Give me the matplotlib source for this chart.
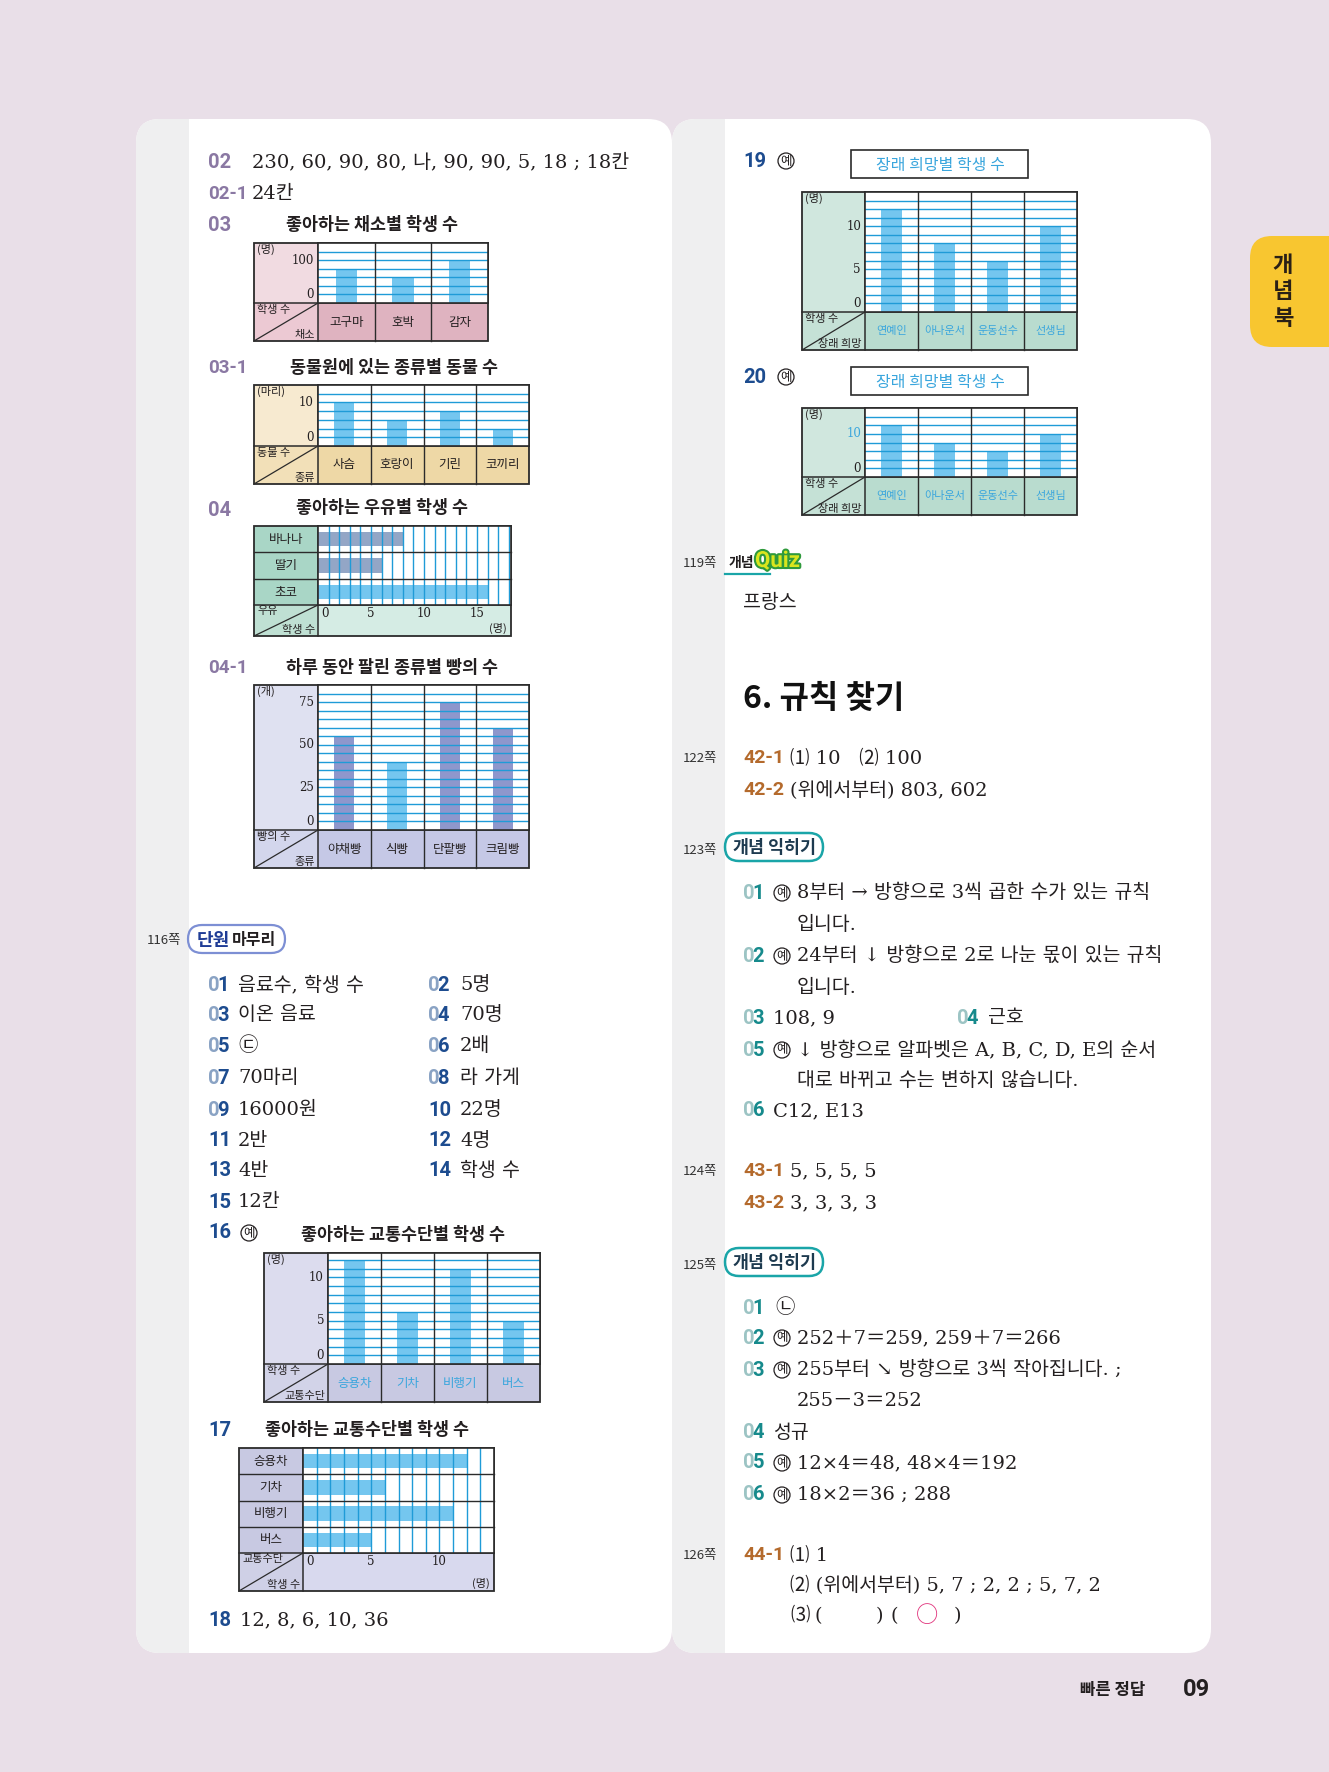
import numpy as np
import matplotlib.pyplot as plt
from matplotlib.patches import Rectangle, FancyBboxPatch
from matplotlib.transforms import blended_transform_factory, offset_copy
import matplotlib.patheffects as pe

SANS = ['Noto Sans CJK KR', 'DejaVu Sans']
SERIF = ['DejaVu Serif', 'Noto Sans CJK KR', 'DejaVu Sans']
NUM = ['Roboto', 'DejaVu Sans']
plt.rcParams['font.family'] = SANS

# ---- chart data ----
veg_cats = ['고구마', '호박', '감자']
veg_vals = [80, 60, 100]
zoo_cats = ['사슴', '호랑이', '기린', '코끼리']
zoo_vals = [10, 6, 8, 4]
milk_cats = ['바나나', '딸기', '초코']
milk_vals = [8, 6, 16]
bread_cats = ['야채빵', '식빵', '단팥빵', '크림빵']
bread_vals = [55, 40, 75, 60]
trans_cats = ['승용차', '기차', '비행기', '버스']
trans_vals = [12, 6, 11, 5]
dream_cats = ['연예인', '아나운서', '운동선수', '선생님']
dream_vals = [12, 8, 6, 10]

W, H = 1329, 1772
fig = plt.figure(figsize=(W / 100, H / 100), dpi=100)
fig.patch.set_facecolor('#e9dfe8')
page = fig.add_axes([0, 0, 1, 1])
page.set_xlim(0, W)
page.set_ylim(H, 0)
page.axis('off')
renderer = fig.canvas.get_renderer()

LINE = '#1f9bd7'
BAR = '#74c6ef'
DARK = '#2b2b2b'
INK = '#231f20'
CATBLUE = '#3aa6dd'
DY = 3  # text baseline nudge


def box_axes(x0, y0, x1, y1):
    return fig.add_axes([x0 / W, 1 - y1 / H, (x1 - x0) / W, (y1 - y0) / H])


def vchart(box, cats, vals, ymax, step, ticks, unit, corner, bg, bar_colors,
           cat_color=INK, tick_colors=None, cat_size=9):
    x0, xl, x1, y0, yh, y1 = box
    lab_bg, head_bg, corner_bg = bg
    page.add_patch(Rectangle((x0, y0), xl - x0, yh - y0, fc=lab_bg, ec='none'))
    page.add_patch(Rectangle((xl, yh), x1 - xl, y1 - yh, fc=head_bg, ec='none'))
    page.add_patch(Rectangle((x0, yh), xl - x0, y1 - yh, fc=corner_bg, ec='none'))
    page.add_patch(Rectangle((x0, y0), x1 - x0, y1 - y0, fc='none', ec=DARK, lw=1.3))
    page.plot([x0, x1], [yh, yh], color=DARK, lw=1.1)
    page.plot([xl, xl], [y0, y1], color=DARK, lw=1.1)
    page.plot([x0, xl], [y1, yh], color=DARK, lw=0.9)
    page.text(x0 + 3, yh + 2, corner[0], ha='left', va='top', fontsize=8, color=INK)
    page.text(xl - 3, y1 - 1, corner[1], ha='right', va='bottom', fontsize=8, color=INK)
    page.text(x0 + 3, y0 + 1, unit, ha='left', va='top', fontsize=8, color=INK)

    n = len(cats)
    ax = box_axes(xl, y0, x1, yh)
    ax.set_xlim(0, n)
    ax.set_ylim(0, ymax)
    ax.bar(np.arange(n) + 0.5, vals, width=0.38, color=bar_colors, zorder=1)
    for v in np.arange(step, ymax, step):
        ax.axhline(v, color=LINE, lw=1.0, zorder=2)
    head = (y1 - yh) / (yh - y0)
    for i in range(1, n):
        ax.axvline(i, ymin=-head, ymax=1, color=DARK, lw=1.0, zorder=3, clip_on=False)
    ax.set_xticks([])
    ax.set_yticks([])
    for s in ax.spines.values():
        s.set_color(DARK)
        s.set_linewidth(1.2)

    tr = blended_transform_factory(ax.transAxes, ax.transData)
    if tick_colors is None:
        tick_colors = [INK] * len(ticks)
    for v, c in zip(ticks, tick_colors):
        if v == 0:
            t = offset_copy(tr, fig=fig, x=-4, y=2, units='dots')
            ax.text(0, v, str(v), transform=t, ha='right', va='bottom',
                    fontsize=8.5, family=SERIF, color=c)
        else:
            t = offset_copy(tr, fig=fig, x=-4, y=0, units='dots')
            ax.text(0, v, str(v), transform=t, ha='right', va='center',
                    fontsize=8.5, family=SERIF, color=c)
    ctr = blended_transform_factory(ax.transData, ax.transAxes)
    for i, c in enumerate(cats):
        ax.text(i + 0.5, -head / 2, c, transform=ctr, ha='center', va='center',
                fontsize=cat_size, color=cat_color)
    return ax


def hchart(box, cats, vals, xmax, step, ticks, corner, bg, bar_colors):
    x0, xl, x1, y0, yd, y1 = box
    row_bg, axis_bg, corner_bg = bg
    page.add_patch(Rectangle((x0, y0), xl - x0, yd - y0, fc=row_bg, ec='none'))
    page.add_patch(Rectangle((xl, yd), x1 - xl, y1 - yd, fc=axis_bg, ec='none'))
    page.add_patch(Rectangle((x0, yd), xl - x0, y1 - yd, fc=corner_bg, ec='none'))
    page.add_patch(Rectangle((x0, y0), x1 - x0, y1 - y0, fc='none', ec=DARK, lw=1.3))
    page.plot([x0, x1], [yd, yd], color=DARK, lw=1.1)
    page.plot([xl, xl], [y0, y1], color=DARK, lw=1.1)
    page.plot([x0, xl], [y1, yd], color=DARK, lw=0.9)
    page.text(x0 + 3, yd + 1, corner[0], ha='left', va='top', fontsize=8, color=INK)
    page.text(xl - 3, y1 - 1, corner[1], ha='right', va='bottom', fontsize=8, color=INK)
    page.text(x1 - 4, y1 - 2, '(명)', ha='right', va='bottom', fontsize=8, color=INK)

    n = len(cats)
    ax = box_axes(xl, y0, x1, yd)
    ax.set_ylim(n, 0)
    ax.set_xlim(0, xmax)
    ax.barh(np.arange(n) + 0.5, vals, height=0.55, color=bar_colors, zorder=1)
    for v in np.arange(step, xmax, step):
        ax.axvline(v, color=LINE, lw=1.0, zorder=2)
    lab = (xl - x0) / (x1 - xl)
    for i in range(1, n):
        ax.axhline(i, xmin=-lab, xmax=1, color=DARK, lw=1.0, zorder=3, clip_on=False)
    ax.set_xticks([])
    ax.set_yticks([])
    for s in ax.spines.values():
        s.set_color(DARK)
        s.set_linewidth(1.2)

    tr = blended_transform_factory(ax.transData, ax.transAxes)
    for v in ticks:
        if v == 0:
            t = offset_copy(tr, fig=fig, x=3, y=-2, units='dots')
            ax.text(v, 0, str(v), transform=t, ha='left', va='top', fontsize=8.5,
                    family=SERIF, color=INK)
        else:
            t = offset_copy(tr, fig=fig, x=0, y=-2, units='dots')
            ax.text(v, 0, str(v), transform=t, ha='center', va='top', fontsize=8.5,
                    family=SERIF, color=INK)
    rtr = blended_transform_factory(ax.transAxes, ax.transData)
    for i, c in enumerate(cats):
        ax.text(-lab / 2, i + 0.5, c, transform=rtr, ha='center', va='center',
                fontsize=9, color=INK)
    return ax


def num(x, y, s, color, zero=None, size=14.5):
    y = y + DY
    if zero and s.startswith('0'):
        t = page.text(x, y, '0', ha='left', va='center', fontsize=size,
                      fontweight='bold', family=NUM, color=zero)
        x = t.get_window_extent(renderer).x1 - 2
        s = s[1:]
    page.text(x, y, s, ha='left', va='center', fontsize=size,
              fontweight='bold', family=NUM, color=color)


def ans(x, y, s, size=14, color=INK):
    page.text(x, y + DY, s, ha='left', va='center', fontsize=size, family=SERIF,
              color=color)


def ye(x, y):
    page.text(x, y + DY, '예', ha='center', va='center', fontsize=9, color=INK,
              bbox=dict(boxstyle='circle,pad=0.12', fc='none', ec=INK, lw=0.9))


def pg(x, y, s):
    page.text(x, y + DY, s, ha='left', va='center', fontsize=9.5, color='#333333')


def title(cx, y, s, size=12.5):
    page.text(cx, y + DY, s, ha='center', va='center', fontsize=size,
              fontweight='bold', color=INK)


# ---- page background: two rounded panels with grey margins ----
for px0, px1 in [(136, 672), (672, 1211)]:
    panel = FancyBboxPatch((px0, 119), px1 - px0, 1534,
                           boxstyle='round,pad=0,rounding_size=24',
                           fc='white', ec='none')
    page.add_patch(panel)
    strip = Rectangle((px0, 119), 53, 1534, fc='#efeff0', ec='none')
    page.add_patch(strip)
    strip.set_clip_path(panel)

# side tab
page.add_patch(FancyBboxPatch((1250, 236), 120, 111,
                              boxstyle='round,pad=0,rounding_size=22',
                              fc='#f8c630', ec='none'))
for yy, ch in zip([265, 291, 318], ['개', '념', '북']):
    page.text(1283, yy, ch, ha='center', va='center', fontsize=16,
              fontweight='bold', color='#2a2016')

# footer
page.text(1080, 1690, '빠른 정답', ha='left', va='center', fontsize=12,
          fontweight='bold', color=INK)
page.text(1183, 1690, '09', ha='left', va='center', fontsize=17,
          fontweight='bold', family=NUM, color=INK)

# ---- left panel, top ----
PURPLE = '#8a78a3'
num(208, 159, '02', PURPLE)
ans(252, 159, '230, 60, 90, 80, 나, 90, 90, 5, 18 ; 18칸')
num(208, 191, '02-1', PURPLE, size=13.5)
ans(252, 191, '24칸')

num(208, 222, '03', PURPLE)
title(372, 222, '좋아하는 채소별 학생 수')
vchart((254, 318, 488, 243, 303, 341), veg_cats, veg_vals, 140, 20, [0, 100],
       '(명)', ('학생 수', '채소'), ('#f1dbe1', '#dfb3c0', '#ecc9d3'), BAR)

num(208, 365, '03-1', PURPLE, size=13.5)
title(394, 365, '동물원에 있는 종류별 동물 수')
vchart((254, 318, 529, 385, 446, 484), zoo_cats, zoo_vals, 14, 2, [0, 10],
       '(마리)', ('동물 수', '종류'), ('#f7ead0', '#eed8a6', '#f2e0b8'), BAR)

num(208, 507, '04', PURPLE)
title(382, 505, '좋아하는 우유별 학생 수')
hchart((254, 318, 511, 526, 605, 636), milk_cats, milk_vals, 18.2, 1, [0, 5, 10, 15],
       ('우유', '학생 수'), ('#a9d6c6', '#d5ece4', '#bfe0d3'),
       ['#93a6c6', '#93a6c6', BAR])

num(208, 665, '04-1', PURPLE, size=13.5)
title(392, 665, '하루 동안 팔린 종류별 빵의 수')
vchart((254, 318, 529, 685, 830, 868), bread_cats, bread_vals, 85, 5, [0, 25, 50, 75],
       '(개)', ('빵의 수', '종류'), ('#dfe1f1', '#c5c8e6', '#d3d6ec'),
       ['#8e97cc', BAR, '#8e97cc', '#8e97cc'])

# ---- left panel, 116쪽 ----
NAVY = '#1d4c8f'
NAVY0 = '#8aa3c4'
pg(147, 937, '116쪽')
page.add_patch(FancyBboxPatch((188, 925), 97, 28, boxstyle='round,pad=0,rounding_size=14',
                              fc='white', ec='#7d8fd4', lw=1.6))
page.text(197, 940, '단원', ha='left', va='center', fontsize=13, fontweight='bold',
          color='#1f3c96')
page.text(232, 940, '마무리', ha='left', va='center', fontsize=11.5, fontweight='bold',
          color=INK)

left_nums = ['01', '03', '05', '07', '09', '11', '13', '15']
left_ans = ['음료수, 학생 수', '이온 음료', '㉢', '70마리', '16000원', '2반', '4반', '12칸']
right_nums = ['02', '04', '06', '08', '10', '12', '14']
right_ans = ['5명', '70명', '2배', '라 가게', '22명', '4명', '학생 수']
row_y = [982, 1012, 1043, 1075, 1107, 1138, 1168, 1199]
for yy, nn, aa in zip(row_y, left_nums, left_ans):
    num(208, yy, nn, NAVY, NAVY0)
    ans(238, yy, aa)
for yy, nn, aa in zip(row_y, right_nums, right_ans):
    num(428, yy, nn, NAVY, NAVY0)
    ans(460, yy, aa)

num(208, 1230, '16', NAVY)
ye(249, 1230)
title(403, 1232, '좋아하는 교통수단별 학생 수')
vchart((264, 328, 540, 1253, 1364, 1402), trans_cats, trans_vals, 12.8, 1, [0, 5, 10],
       '(명)', ('학생 수', '교통수단'), ('#dcdcee', '#c8c9e2', '#d2d3e8'), BAR,
       cat_color=CATBLUE)

num(208, 1427, '17', NAVY)
title(367, 1427, '좋아하는 교통수단별 학생 수')
hchart((239, 303, 494, 1448, 1553, 1591), trans_cats, trans_vals, 14, 1, [0, 5, 10],
       ('교통수단', '학생 수'), ('#c8c9e2', '#d8d9ee', '#cfd0e6'), BAR)

num(208, 1617, '18', NAVY)
ans(240, 1617, '12, 8, 6, 10, 36')

# ---- right panel, charts 19 / 20 ----
for yy, nn, (by0, by1) in [(158, '19', (150, 178)), (374, '20', (367, 395))]:
    num(743, yy, nn, NAVY)
    ye(786, yy)
    page.add_patch(Rectangle((851, by0), 177, by1 - by0, fc='white', ec=DARK, lw=1.2))
    page.text(940, (by0 + by1) / 2 + 1, '장래 희망별 학생 수', ha='center', va='center',
              fontsize=11.5, color=CATBLUE)

dream_bg = ('#d0e7de', '#b9dccf', '#c5e1d6')
vchart((802, 865, 1077, 192, 312, 350), dream_cats, dream_vals, 14, 1, [0, 5, 10],
       '(명)', ('학생 수', '장래 희망'), dream_bg, BAR, cat_color=CATBLUE, cat_size=8)
vchart((802, 865, 1077, 408, 477, 515), dream_cats, dream_vals, 16, 2, [0, 10],
       '(명)', ('학생 수', '장래 희망'), dream_bg, BAR, cat_color=CATBLUE, cat_size=8,
       tick_colors=[INK, CATBLUE])

# ---- right panel, text ----
TEAL = '#168a8c'
TEAL0 = '#9cc4c4'
BROWN = '#b46a2c'

pg(683, 560, '119쪽')
page.text(729, 563, '개념', ha='left', va='center', fontsize=10, fontweight='bold',
          color=INK)
page.text(755, 561, 'Quiz', ha='left', va='center', fontsize=16, fontweight='bold',
          family=NUM, color='#d9e51e',
          path_effects=[pe.Stroke(linewidth=3, foreground='#2f9a3c'), pe.Normal()])
page.plot([725, 770], [574, 574], color='#1aa5a8', lw=1.6)
ans(743, 600, '프랑스')

page.text(743, 699, '6. 규칙 찾기', ha='left', va='center', fontsize=23,
          fontweight='bold', color='#111111')

pg(683, 755, '122쪽')
num(743, 755, '42-1', BROWN, size=14)
ans(790, 755, '⑴ 10   ⑵ 100')
num(743, 787, '42-2', BROWN, size=14)
ans(790, 787, '(위에서부터) 803, 602')


def badge(y):
    page.add_patch(FancyBboxPatch((725, y - 14), 98, 28,
                                  boxstyle='round,pad=0,rounding_size=14',
                                  fc='white', ec='#1aa5a8', lw=1.8))
    page.text(733, y + 1, '개념', ha='left', va='center', fontsize=12.5, fontweight='bold',
              color='#1d3a4f')
    page.text(768, y + 1, '익히기', ha='left', va='center', fontsize=12.5, fontweight='bold',
              color='#1d3a4f')


pg(683, 847, '123쪽')
badge(847)
num(743, 890, '01', TEAL, TEAL0)
ye(782, 890)
ans(797, 890, '8부터 → 방향으로 3씩 곱한 수가 있는 규칙')
ans(797, 922, '입니다.')
num(743, 953, '02', TEAL, TEAL0)
ye(782, 953)
ans(797, 953, '24부터 ↓ 방향으로 2로 나눈 몫이 있는 규칙')
ans(797, 985, '입니다.')
num(743, 1015, '03', TEAL, TEAL0)
ans(773, 1015, '108, 9')
num(957, 1015, '04', TEAL, TEAL0)
ans(988, 1015, '근호')
num(743, 1047, '05', TEAL, TEAL0)
ye(782, 1047)
ans(797, 1047, '↓ 방향으로 알파벳은 A, B, C, D, E의 순서')
ans(797, 1078, '대로 바뀌고 수는 변하지 않습니다.')
num(743, 1108, '06', TEAL, TEAL0)
ans(773, 1108, 'C12, E13')

pg(683, 1168, '124쪽')
num(743, 1168, '43-1', BROWN, size=14)
ans(790, 1168, '5, 5, 5, 5')
num(743, 1200, '43-2', BROWN, size=14)
ans(790, 1200, '3, 3, 3, 3')

pg(683, 1262, '125쪽')
badge(1262)
num(743, 1305, '01', TEAL, TEAL0)
ans(775, 1305, '㉡')
num(743, 1335, '02', TEAL, TEAL0)
ye(782, 1335)
ans(797, 1335, '252＋7＝259, 259＋7＝266')
num(743, 1367, '03', TEAL, TEAL0)
ye(782, 1367)
ans(797, 1367, '255부터 ↘ 방향으로 3씩 작아집니다. ;')
ans(797, 1398, '255－3＝252')
num(743, 1430, '04', TEAL, TEAL0)
ans(773, 1430, '성규')
num(743, 1460, '05', TEAL, TEAL0)
ye(782, 1460)
ans(797, 1460, '12×4＝48, 48×4＝192')
num(743, 1492, '06', TEAL, TEAL0)
ye(782, 1492)
ans(797, 1492, '18×2＝36 ; 288')

pg(683, 1552, '126쪽')
num(743, 1552, '44-1', BROWN, size=14)
ans(790, 1552, '⑴ 1')
ans(790, 1582, '⑵ (위에서부터) 5, 7 ; 2, 2 ; 5, 7, 2')
ans(790, 1613, '⑶')
ans(815, 1613, '(')
ans(876, 1613, ')')
ans(890, 1613, '(')
ans(954, 1613, ')')
page.text(927, 1613 + DY, '○', ha='center', va='center', fontsize=16, color='#e0307a')

fig.savefig('out.png', dpi=100, facecolor=fig.get_facecolor())
